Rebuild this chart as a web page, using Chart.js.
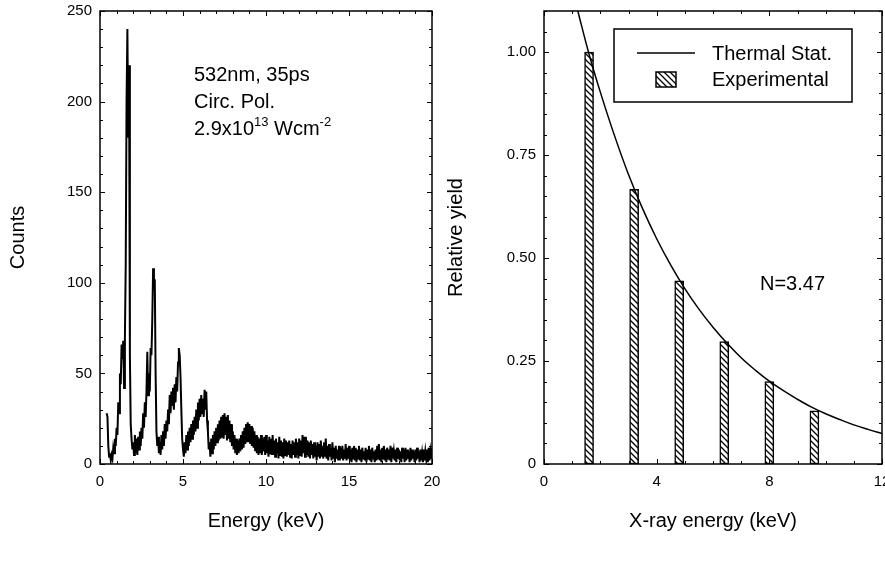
<!DOCTYPE html>
<html>
<head>
<meta charset="utf-8">
<script src="https://cdn.jsdelivr.net/npm/chart.js@4.4.1/dist/chart.umd.min.js"></script>
<style>
    html, body { margin: 0; padding: 0; background: #fff; }
    #wrap { position: relative; width: 885px; height: 563px; overflow: hidden; }
    #spectrum { position: absolute; left: 0; top: 0; }
    #yield { position: absolute; left: 442px; top: 0; }
</style>
</head>
<body>
<div id="wrap">
    <canvas id="spectrum" width="442" height="563"></canvas>
    <canvas id="yield" width="443" height="563"></canvas>
</div>
<script>
// ==================== 数据：左图 X 射线能谱 ====================
// 通道刻度：第一个通道 0.40 keV，每通道 0.05 keV（每行 20 个通道 = 1 keV）
const spectrumStartKeV = 0.4;
const spectrumStepKeV = 0.05;
const spectrumCounts = [
    28, 26, 10, 4, 6, 2, 5, 3, 9, 6, 14, 10, 20, 16, 34, 28, 50, 44, 66, 58,
    68, 42, 70, 110, 200, 240, 180, 220, 60, 22, 14, 8, 12, 5, 16, 6, 14, 5, 15, 8,
    18, 10, 20, 14, 28, 20, 34, 26, 40, 62, 38, 50, 40, 64, 60, 80, 108, 96, 102, 50,
    18, 10, 15, 6, 12, 5, 16, 8, 18, 10, 22, 14, 24, 18, 30, 22, 38, 28, 40, 32,
    42, 30, 44, 34, 48, 40, 56, 64, 60, 48, 30, 14, 8, 4, 12, 6, 16, 8, 18, 10,
    20, 12, 22, 14, 24, 16, 26, 18, 30, 20, 34, 24, 36, 26, 38, 28, 36, 26, 41, 30,
    40, 24, 18, 8, 12, 4, 14, 6, 16, 8, 18, 10, 20, 12, 22, 13, 24, 14, 26, 15,
    27, 14, 28, 16, 26, 13, 27, 14, 24, 12, 22, 10, 18, 8, 16, 6, 14, 5, 13, 6,
    14, 7, 16, 8, 18, 9, 20, 11, 22, 12, 23, 12, 22, 11, 21, 10, 20, 9, 18, 7,
    16, 6, 15, 5, 14, 6, 16, 5, 14, 7, 15, 5, 16, 6, 13, 4, 15, 6, 14, 5,
    16, 5, 13, 4, 14, 6, 12, 3, 15, 5, 13, 4, 12, 3, 14, 5, 13, 4, 12, 5,
    13, 4, 11, 3, 13, 5, 12, 4, 14, 5, 12, 3, 14, 5, 13, 4, 16, 6, 15, 4,
    15, 5, 13, 4, 12, 3, 13, 5, 11, 3, 12, 4, 10, 2, 12, 4, 11, 3, 13, 4,
    10, 3, 12, 4, 14, 3, 10, 2, 11, 4, 9, 2, 12, 3, 9, 1, 10, 3, 8, 2,
    10, 2, 9, 3, 10, 2, 8, 3, 11, 2, 9, 3, 10, 2, 8, 1, 9, 3, 10, 2,
    9, 1, 8, 3, 10, 2, 8, 1, 9, 3, 7, 2, 9, 1, 8, 3, 10, 2, 8, 1,
    9, 3, 7, 1, 8, 2, 10, 3, 11, 2, 8, 1, 9, 3, 10, 2, 8, 1, 9, 3,
    8, 2, 10, 1, 9, 3, 7, 2, 8, 1, 9, 3, 8, 2, 7, 1, 9, 3, 8, 1,
    9, 2, 8, 3, 7, 1, 9, 2, 8, 3, 7, 1, 8, 2, 9, 3, 7, 1, 8, 2,
    6, 1, 8, 2, 7, 3, 8, 1, 9, 2, 7, 3, 9
];
const energyTicks = [0, 5, 10, 15, 20];
const countTicks = [0, 50, 100, 150, 200, 250];

// ==================== 数据：右图 相对产额 ====================
const harmonicEnergy = [1.6, 3.2, 4.8, 6.4, 8.0, 9.6];
const experimentalYield = [1.00, 0.667, 0.445, 0.297, 0.20, 0.129];
const thermalEnergy = [1.2, 1.6, 2.0, 2.5, 3.0, 3.5, 4.0, 4.5, 5.0, 5.5, 6.0, 6.5,
                       7.0, 7.5, 8.0, 8.5, 9.0, 9.5, 10.0, 10.5, 11.0, 11.5, 12.0];
const thermalYield = [1.10, 0.995, 0.903, 0.798, 0.703, 0.620, 0.547, 0.483, 0.426, 0.376, 0.332, 0.293,
                      0.258, 0.228, 0.201, 0.178, 0.157, 0.138, 0.122, 0.108, 0.095, 0.084, 0.074];
const xrayTicks = [0, 4, 8, 12];
const yieldTicks = [0, 0.25, 0.5, 0.75, 1.0];

const FONT = '"Liberation Sans", Arial, Helvetica, sans-serif';
Chart.defaults.font.family = FONT;
Chart.defaults.color = '#000';

// ==================== 插件：外框 + 朝内的刻度线 ====================
const frameTicks = {
    id: 'frameTicks',
    afterDatasetsDraw(chart, args, opts) {
        const { ctx, chartArea: a, scales: { x, y } } = chart;
        const isMajor = (v, step) => Math.abs(v / step - Math.round(v / step)) < 1e-6;
        ctx.save();
        ctx.strokeStyle = '#000';
        ctx.lineWidth = 1;
        ctx.beginPath();
        const nx = Math.round((x.max - x.min) / opts.xMinor);
        for (let i = 0; i <= nx; i++) {
            const v = x.min + i * opts.xMinor;
            const px = Math.round(x.getPixelForValue(v)) + 0.5;
            const len = isMajor(v, opts.xMajor) ? 5 : 3;
            ctx.moveTo(px, a.bottom); ctx.lineTo(px, a.bottom - len);
            ctx.moveTo(px, a.top); ctx.lineTo(px, a.top + len);
        }
        const ny = Math.floor((y.max - y.min) / opts.yMinor + 1e-6);
        for (let i = 0; i <= ny; i++) {
            const v = y.min + i * opts.yMinor;
            const py = Math.round(y.getPixelForValue(v)) + 0.5;
            const len = isMajor(v, opts.yMajor) ? 5 : 3;
            ctx.moveTo(a.left, py); ctx.lineTo(a.left + len, py);
            ctx.moveTo(a.right, py); ctx.lineTo(a.right - len, py);
        }
        ctx.stroke();
        ctx.lineWidth = 1.5;
        ctx.strokeRect(a.left, a.top, a.right - a.left, a.bottom - a.top);
        ctx.restore();
    }
};

// ==================== 插件：左图注释文字 ====================
const spectrumNotes = {
    id: 'spectrumNotes',
    afterDraw(chart) {
        const ctx = chart.ctx;
        ctx.save();
        ctx.fillStyle = '#000';
        ctx.textBaseline = 'alphabetic';
        ctx.textAlign = 'left';
        const big = '20px ' + FONT, small = '13px ' + FONT;
        ctx.font = big;
        ctx.fillText('532nm, 35ps', 194, 81);
        ctx.fillText('Circ. Pol.', 194, 108);
        // 2.9x10^13 Wcm^-2
        let x = 194;
        const base = 135;
        const parts = [['2.9x10', big, 0], ['13', small, -9], [' Wcm', big, 0], ['-2', small, -9]];
        parts.forEach(([t, f, dy]) => {
            ctx.font = f;
            ctx.fillText(t, x, base + dy);
            x += ctx.measureText(t).width;
        });
        ctx.restore();
    }
};

// ==================== 斜线填充图案 ====================
function makeHatch(ctx) {
    const tile = document.createElement('canvas');
    tile.width = 6; tile.height = 6;
    const g = tile.getContext('2d');
    g.fillStyle = '#fff';
    g.fillRect(0, 0, 6, 6);
    g.strokeStyle = '#000';
    g.lineWidth = 1.3;
    g.beginPath();
    g.moveTo(-1, -1); g.lineTo(7, 7);
    g.moveTo(-1, 5); g.lineTo(1, 7);
    g.moveTo(5, -1); g.lineTo(7, 1);
    g.stroke();
    return ctx.createPattern(tile, 'repeat');
}

// ==================== 插件：右图图例 + N 值 ====================
const yieldLegend = {
    id: 'yieldLegend',
    afterDraw(chart) {
        const ctx = chart.ctx;
        const ds = chart.data.datasets;
        ctx.save();
        ctx.strokeStyle = '#000';
        ctx.fillStyle = '#fff';
        ctx.lineWidth = 1.5;
        ctx.fillRect(172, 29, 238, 73);
        ctx.strokeRect(172, 29, 238, 73);
        // 线条样例
        ctx.beginPath();
        ctx.moveTo(195, 53); ctx.lineTo(253, 53);
        ctx.stroke();
        // 斜线方块样例
        ctx.fillStyle = ds[1].backgroundColor;
        ctx.fillRect(214, 72, 20, 15);
        ctx.strokeRect(214, 72, 20, 15);
        ctx.fillStyle = '#000';
        ctx.font = '20px ' + FONT;
        ctx.textAlign = 'left';
        ctx.textBaseline = 'alphabetic';
        ctx.fillText(ds[0].label, 270, 60);
        ctx.fillText(ds[1].label, 270, 86);
        ctx.fillText('N=3.47', 318, 290);
        ctx.restore();
    }
};

function fixedTicks(values) {
    return s => { s.ticks = values.map(v => ({ value: v })); };
}

// ==================== 左图：能谱 ====================
const spectrumPoints = spectrumCounts.map((c, i) => ({ x: spectrumStartKeV + i * spectrumStepKeV, y: c }));

new Chart(document.getElementById('spectrum'), {
    type: 'line',
    data: {
        datasets: [{
            label: 'Counts',
            data: spectrumPoints,
            borderColor: '#000',
            borderWidth: 2,
            pointRadius: 0,
            tension: 0,
            fill: false
        }]
    },
    options: {
        responsive: false,
        animation: false,
        layout: { padding: { left: 0, right: 10, top: 11, bottom: 0 } },
        plugins: {
            legend: { display: false },
            tooltip: { enabled: false },
            frameTicks: { xMinor: 1, xMajor: 5, yMinor: 10, yMajor: 50 }
        },
        scales: {
            x: {
                type: 'linear', min: 0, max: 20,
                grid: { display: false, drawTicks: false },
                border: { display: false },
                ticks: { padding: 9, font: { size: 15 }, maxRotation: 0 },
                afterBuildTicks: fixedTicks(energyTicks),
                afterFit: s => { s.height = 99; s.paddingLeft = 0; s.paddingRight = 0; },
                title: { display: true, text: 'Energy (keV)', font: { size: 20 }, padding: { top: 0, bottom: 30 } }
            },
            y: {
                min: 0, max: 250,
                grid: { display: false, drawTicks: false },
                border: { display: false },
                ticks: { padding: 8, font: { size: 15 } },
                afterBuildTicks: fixedTicks(countTicks),
                afterFit: s => { s.width = 100; s.paddingTop = 0; s.paddingBottom = 0; },
                title: { display: true, text: 'Counts', font: { size: 20 }, padding: { top: 6, bottom: 0 } }
            }
        }
    },
    plugins: [frameTicks, spectrumNotes]
});

// ==================== 右图：相对产额 ====================
const yieldCanvas = document.getElementById('yield');
const hatch = makeHatch(yieldCanvas.getContext('2d'));

new Chart(yieldCanvas, {
    type: 'bar',
    data: {
        datasets: [{
            type: 'line',
            label: 'Thermal Stat.',
            data: thermalEnergy.map((e, i) => ({ x: e, y: thermalYield[i] })),
            borderColor: '#000',
            borderWidth: 1.5,
            pointRadius: 0,
            tension: 0.4,
            fill: false,
            order: 0
        }, {
            type: 'bar',
            label: 'Experimental',
            data: harmonicEnergy.map((e, i) => ({ x: e, y: experimentalYield[i] })),
            backgroundColor: hatch,
            borderColor: '#000',
            borderWidth: 1.5,
            borderSkipped: false,
            barThickness: 9,
            order: 1
        }]
    },
    options: {
        responsive: false,
        animation: false,
        layout: { padding: { left: 0, right: 3, top: 11, bottom: 0 } },
        plugins: {
            legend: { display: false },
            tooltip: { enabled: false },
            frameTicks: { xMinor: 1, xMajor: 4, yMinor: 0.05, yMajor: 0.25 }
        },
        scales: {
            x: {
                type: 'linear', min: 0, max: 12, offset: false,
                grid: { display: false, drawTicks: false },
                border: { display: false },
                ticks: { padding: 9, font: { size: 15 }, maxRotation: 0 },
                afterBuildTicks: fixedTicks(xrayTicks),
                afterFit: s => { s.height = 99; s.paddingLeft = 0; s.paddingRight = 0; },
                title: { display: true, text: 'X-ray energy (keV)', font: { size: 20 }, padding: { top: 0, bottom: 30 } }
            },
            y: {
                min: 0, max: 1.1,
                grid: { display: false, drawTicks: false },
                border: { display: false },
                ticks: {
                    padding: 8, font: { size: 15 },
                    callback: v => v === 0 ? '0' : v.toFixed(2)
                },
                afterBuildTicks: fixedTicks(yieldTicks),
                afterFit: s => { s.width = 102; s.paddingTop = 0; s.paddingBottom = 0; },
                title: { display: true, text: 'Relative yield', font: { size: 20 }, padding: { top: 2, bottom: 0 } }
            }
        }
    },
    plugins: [frameTicks, yieldLegend]
});
</script>
</body>
</html>
